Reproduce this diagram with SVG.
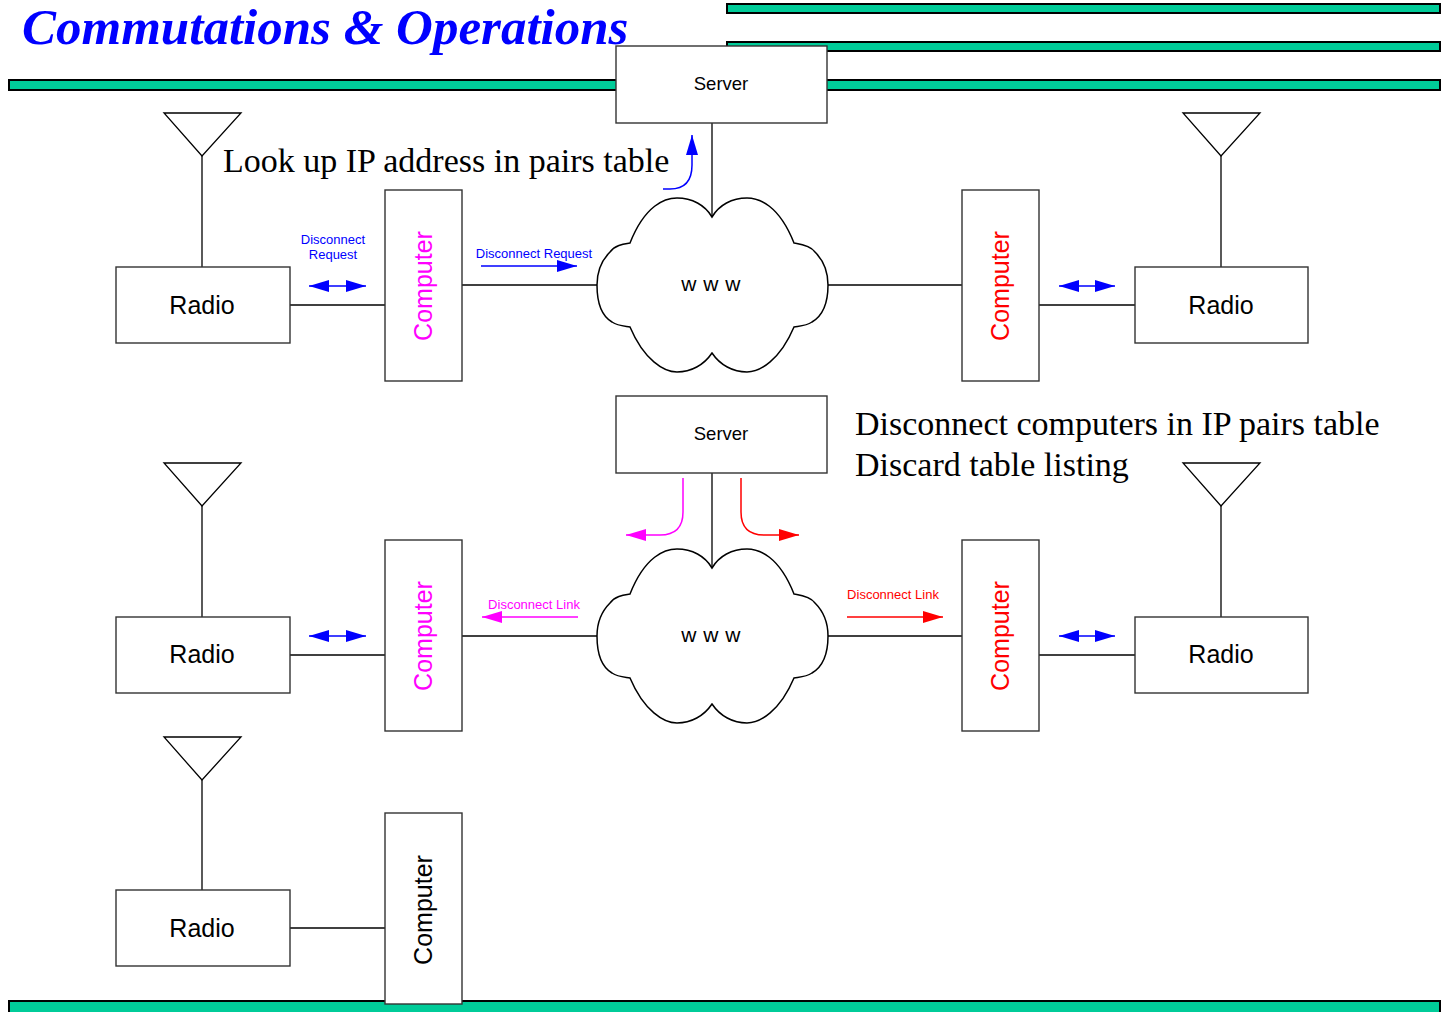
<svg xmlns="http://www.w3.org/2000/svg" width="1442" height="1012" viewBox="0 0 1442 1012">
<style>
.bar{fill:#00CC99;stroke:#000;stroke-width:2}
.box{fill:#fff;stroke:#333;stroke-width:1.4}
.ln{fill:none;stroke:#000;stroke-width:1.3}
.cloud{fill:#fff;stroke:#000;stroke-width:1.5}
.ant{fill:none;stroke:#000;stroke-width:1.3}
.lbl{font-family:"Liberation Sans",Arial,sans-serif;fill:#000;text-anchor:middle}
.mag{fill:#FF00FF}
.red{fill:#FF0000}
.blue{fill:#0000FF}
.big{font-family:"Liberation Serif","Times New Roman",serif;font-size:34px;fill:#000}
.small{font-family:"Liberation Sans",Arial,sans-serif;font-size:13px;text-anchor:middle}
.ab{fill:none;stroke:#0000FF;stroke-width:1.5}
.am{fill:none;stroke:#FF00FF;stroke-width:1.5}
.ar{fill:none;stroke:#FF0000;stroke-width:1.5}
</style>
<defs>
<marker id="hb" viewBox="0 0 20 12" refX="20" refY="6" markerWidth="20" markerHeight="12" markerUnits="userSpaceOnUse" orient="auto-start-reverse"><path d="M0,0 L20,6 L0,12 Z" fill="#0000FF"/></marker>
<marker id="hm" viewBox="0 0 20 12" refX="20" refY="6" markerWidth="20" markerHeight="12" markerUnits="userSpaceOnUse" orient="auto-start-reverse"><path d="M0,0 L20,6 L0,12 Z" fill="#FF00FF"/></marker>
<marker id="hr" viewBox="0 0 20 12" refX="20" refY="6" markerWidth="20" markerHeight="12" markerUnits="userSpaceOnUse" orient="auto-start-reverse"><path d="M0,0 L20,6 L0,12 Z" fill="#FF0000"/></marker>
<path id="cloudShape" d="M630,243 C645,205 665,198 677,198 C692,198 705,205 712,217 C719,205 732,198 747,198 C759,198 779,205 794,243 C800,244 810,245 815,252 C825,262 828,275 828,285 C828,300 824,315 812,322 C806,326 800,326 794,327 C780,360 760,372 747,372 C733,372 720,365 712,353 C704,365 691,372 677,372 C664,372 644,360 630,327 C624,326 618,326 612,322 C600,315 597,300 597,285 C597,275 600,262 610,252 C615,245 624,244 630,243 Z"/>
</defs>
<rect width="1442" height="1012" fill="#fff"/>

<g id="decor">
<rect class="bar" x="727" y="4" width="713" height="9"/>
<rect class="bar" x="727" y="42" width="713" height="9"/>
<rect class="bar" x="9" y="80" width="1431" height="10"/>
<rect class="bar" x="9" y="1001" width="1431" height="12"/>
<text x="22" y="44" font-family="'Liberation Serif','Times New Roman',serif" font-size="51" font-weight="bold" font-style="italic" fill="#0000FF">Commutations &amp; Operations</text>
<text class="big" x="223" y="172">Look up IP address in pairs table</text>
<text class="big" x="855" y="435">Disconnect computers in IP pairs table</text>
<text class="big" x="855" y="476">Discard table listing</text>
</g>

<g id="connectors">
<line class="ln" x1="712" y1="123" x2="712" y2="217"/>
<line class="ln" x1="202" y1="156" x2="202" y2="267"/>
<line class="ln" x1="290" y1="305" x2="385" y2="305"/>
<line class="ln" x1="462" y1="285" x2="600" y2="285"/>
<line class="ln" x1="825" y1="285" x2="962" y2="285"/>
<line class="ln" x1="1039" y1="305" x2="1135" y2="305"/>
<line class="ln" x1="1221" y1="156" x2="1221" y2="267"/>
<line class="ab" x1="309" y1="286" x2="366" y2="286" marker-start="url(#hb)" marker-end="url(#hb)"/>
<line class="ab" x1="1059" y1="286" x2="1115" y2="286" marker-start="url(#hb)" marker-end="url(#hb)"/>
<line class="ab" x1="481" y1="266" x2="577" y2="266" marker-end="url(#hb)"/>
<path class="ab" d="M663,189 L670,189 C686,189 692,180 692,165 L692,135" marker-end="url(#hb)"/>
<line class="ln" x1="712" y1="473" x2="712" y2="567"/>
<line class="ln" x1="202" y1="506" x2="202" y2="617"/>
<line class="ln" x1="290" y1="655" x2="385" y2="655"/>
<line class="ln" x1="462" y1="636" x2="600" y2="636"/>
<line class="ln" x1="825" y1="636" x2="962" y2="636"/>
<line class="ln" x1="1039" y1="655" x2="1135" y2="655"/>
<line class="ln" x1="1221" y1="506" x2="1221" y2="617"/>
<line class="ab" x1="309" y1="636" x2="366" y2="636" marker-start="url(#hb)" marker-end="url(#hb)"/>
<line class="ab" x1="1059" y1="636" x2="1115" y2="636" marker-start="url(#hb)" marker-end="url(#hb)"/>
<line class="am" x1="578" y1="617" x2="482" y2="617" marker-end="url(#hm)"/>
<line class="ar" x1="847" y1="617" x2="943" y2="617" marker-end="url(#hr)"/>
<path class="am" d="M683,478 L683,512 Q683,535 660,535 L626,535" marker-end="url(#hm)"/>
<path class="ar" d="M741,478 L741,512 Q741,535 764,535 L799,535" marker-end="url(#hr)"/>
<line class="ln" x1="202" y1="780" x2="202" y2="890"/>
<line class="ln" x1="290" y1="928" x2="385" y2="928"/>
</g>

<g id="labels">
<text class="small blue" x="333" y="244">Disconnect</text>
<text class="small blue" x="333" y="259">Request</text>
<text class="small blue" x="534" y="258">Disconnect Request</text>
<text class="small mag" x="534" y="609">Disconnect Link</text>
<text class="small red" x="893" y="599">Disconnect Link</text>
</g>

<g id="server1"><rect class="box" x="616" y="46" width="211" height="77"/><text class="lbl" x="721" y="90" font-size="18.5">Server</text></g>
<g id="server2"><rect class="box" x="616" y="396" width="211" height="77"/><text class="lbl" x="721" y="440" font-size="18.5">Server</text></g>

<g id="www1"><use href="#cloudShape" class="cloud"/><text class="lbl" x="711" y="291" font-size="21" letter-spacing="0.5">w w w</text></g>
<g id="www2"><use href="#cloudShape" class="cloud" transform="translate(0,351)"/><text class="lbl" x="711" y="642" font-size="21" letter-spacing="0.5">w w w</text></g>

<g id="antenna1"><path class="ant" d="M164,113 L241,113 L202,156 Z"/></g>
<g id="antenna2"><path class="ant" d="M1183,113 L1260,113 L1221,156 Z"/></g>
<g id="antenna3"><path class="ant" d="M164,463 L241,463 L202,506 Z"/></g>
<g id="antenna4"><path class="ant" d="M1183,463 L1260,463 L1221,506 Z"/></g>
<g id="antenna5"><path class="ant" d="M164,737 L241,737 L202,780 Z"/></g>

<g id="radio1"><rect class="box" x="116" y="267" width="174" height="76"/><text class="lbl" x="202" y="314" font-size="25">Radio</text></g>
<g id="radio2"><rect class="box" x="1135" y="267" width="173" height="76"/><text class="lbl" x="1221" y="314" font-size="25">Radio</text></g>
<g id="radio3"><rect class="box" x="116" y="617" width="174" height="76"/><text class="lbl" x="202" y="663" font-size="25">Radio</text></g>
<g id="radio4"><rect class="box" x="1135" y="617" width="173" height="76"/><text class="lbl" x="1221" y="663" font-size="25">Radio</text></g>
<g id="radio5"><rect class="box" x="116" y="890" width="174" height="76"/><text class="lbl" x="202" y="937" font-size="25">Radio</text></g>

<g id="computer1"><rect class="box" x="385" y="190" width="77" height="191"/><text class="lbl mag" font-size="25" transform="translate(432,286) rotate(-90)">Computer</text></g>
<g id="computer2"><rect class="box" x="962" y="190" width="77" height="191"/><text class="lbl red" font-size="25" transform="translate(1009,286) rotate(-90)">Computer</text></g>
<g id="computer3"><rect class="box" x="385" y="540" width="77" height="191"/><text class="lbl mag" font-size="25" transform="translate(432,636) rotate(-90)">Computer</text></g>
<g id="computer4"><rect class="box" x="962" y="540" width="77" height="191"/><text class="lbl red" font-size="25" transform="translate(1009,636) rotate(-90)">Computer</text></g>
<g id="computer5"><rect class="box" x="385" y="813" width="77" height="191"/><text class="lbl" font-size="25" transform="translate(432,910) rotate(-90)">Computer</text></g>
</svg>
